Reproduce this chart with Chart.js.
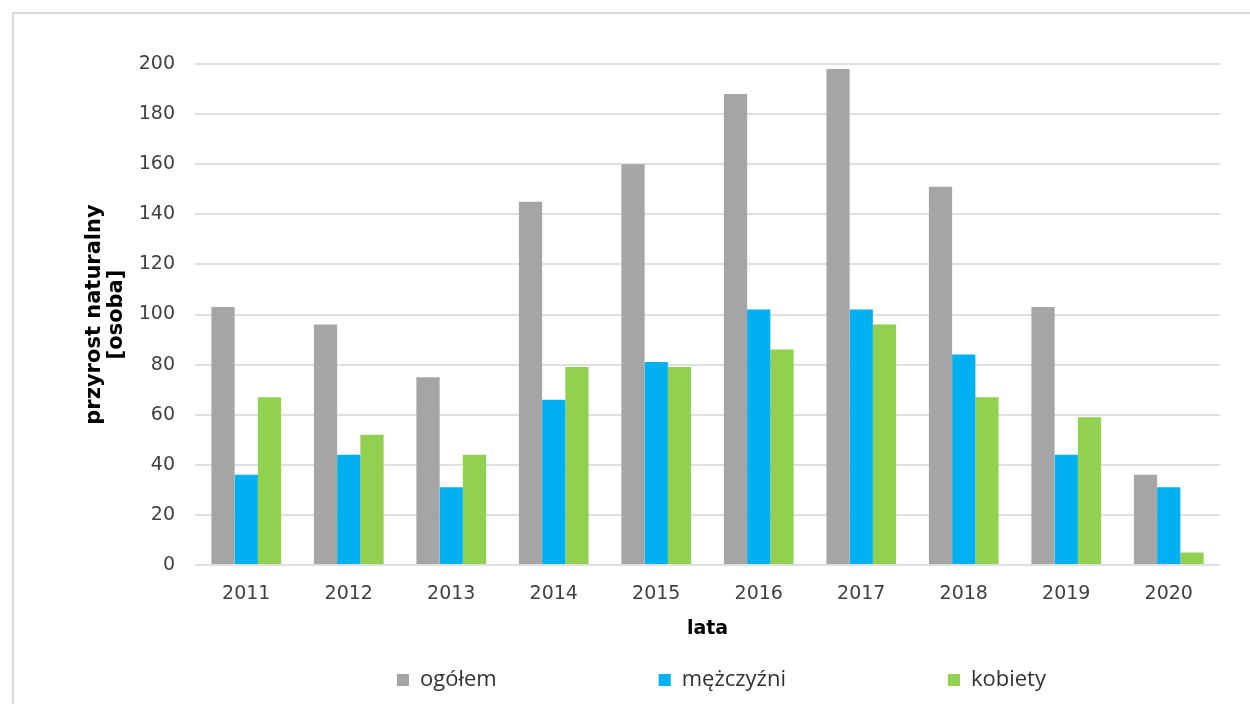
<!DOCTYPE html>
<html>
<head>
<meta charset="utf-8">
<script src="https://cdn.jsdelivr.net/npm/chart.js@4/dist/chart.umd.min.js"></script>
<style>
  html, body { margin: 0; padding: 0; background: #fff; }
  #wrap { position: relative; width: 1250px; height: 704px; overflow: hidden; }
  #frame { position: absolute; left: 12px; top: 12px; width: 1260px; height: 720px; border: 2px solid #d9d9d9; box-sizing: border-box; }
  #c { position: absolute; left: 0; top: 0; }
</style>
</head>
<body>
<div id="wrap">
  <div id="frame"></div>
  <canvas id="c" width="1250" height="704"></canvas>
</div>
<script>
const categories = ['2011', '2012', '2013', '2014', '2015', '2016', '2017', '2018', '2019', '2020'];
const seriesNames = ['ogółem', 'mężczyźni', 'kobiety'];
const ogolem = [103, 96, 75, 145, 160, 188, 198, 151, 103, 36];
const mezczyzni = [36, 44, 31, 66, 81, 102, 102, 84, 44, 31];
const kobiety = [67, 52, 44, 79, 79, 86, 96, 67, 59, 5];
const yTitle = ['przyrost naturalny', '[osoba]'];
const xTitle = 'lata';

const LEGEND_PAD = 162;
const legendShift = {
  id: 'legendShift',
  afterLayout(chart) {
    const lg = chart.legend;
    if (!lg || !lg.lineWidths) return;
    const start = (lg.left + LEGEND_PAD + lg.right - lg.lineWidths[0]) / 2;
    const s = 397 - start;
    lg.left += s; lg.right += s;
    lg.top = 669 - LEGEND_PAD;
    lg.bottom = 704;
    lg.height = lg.bottom - lg.top;
  }
};

new Chart(document.getElementById('c'), {
  type: 'bar',
  data: {
    labels: categories,
    datasets: [
      { label: seriesNames[0], data: ogolem, backgroundColor: '#A5A5A5' },
      { label: seriesNames[1], data: mezczyzni, backgroundColor: '#00B0F0' },
      { label: seriesNames[2], data: kobiety, backgroundColor: '#92D050' }
    ]
  },
  options: {
    responsive: false,
    animation: false,
    layout: { padding: { top: 64, right: 30, left: 0, bottom: 0 } },
    datasets: { bar: { categoryPercentage: 0.68, barPercentage: 1.0 } },
    scales: {
      x: {
        grid: { display: false, drawTicks: false },
        border: { display: false },
        ticks: { color: '#404040', font: { family: 'DejaVu Sans', size: 19 }, padding: 18 },
        title: { display: true, text: xTitle, color: '#000', font: { family: 'DejaVu Sans', size: 19, weight: 'bold' }, padding: { top: 0, bottom: 5 } },
        afterFit(scale) { scale.height = 80; }
      },
      y: {
        min: 0, max: 200,
        ticks: { stepSize: 20, color: '#404040', font: { family: 'DejaVu Sans', size: 19 }, padding: 20 },
        grid: { color: '#e0e0e0', lineWidth: 2, drawTicks: false },
        border: { display: false },
        title: { display: true, text: yTitle, color: '#000', font: { family: 'DejaVu Sans', size: 21, weight: 'bold', lineHeight: 1.03 }, padding: { top: 84, bottom: 0 } },
        afterFit(scale) { scale.width = 195; }
      }
    },
    plugins: {
      legend: {
        position: 'bottom',
        maxHeight: 59,
        labels: { boxWidth: 12, boxHeight: 12, padding: LEGEND_PAD, color: '#333333', font: { family: 'Open Sans', size: 22 } }
      },
      tooltip: { enabled: false }
    }
  },
  plugins: [legendShift]
});
</script>
</body>
</html>
